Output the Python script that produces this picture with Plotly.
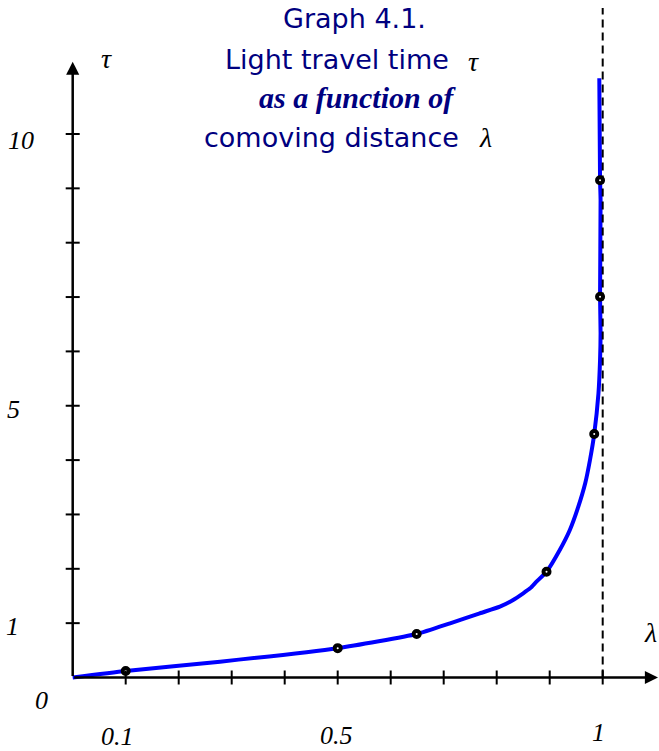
import plotly.graph_objects as go

# ---- data -------------------------------------------------------------
# comoving distance (lambda) and light travel time (tau) along the curve
lam_curve = [0, 0.1, 0.278, 0.5, 0.649, 0.712, 0.768, 0.806,
             0.831, 0.850, 0.863, 0.875, 0.894, 0.919, 0.938, 0.954, 0.967,
             0.976, 0.984, 0.992, 0.995, 0.996, 0.995, 0.996, 0.995, 0.9936]
tau_curve = [0, 0.12, 0.29, 0.54, 0.80, 0.997, 1.181, 1.303,
             1.426, 1.549, 1.641, 1.763, 1.947, 2.346, 2.714, 3.143, 3.573,
             4.002, 4.48, 5.229, 5.842, 6.333, 7.006, 8.786, 9.148, 11.025]

# computed sample points
lam_pts = [0.1, 0.5, 0.649, 0.894, 0.984, 0.995, 0.995]
tau_pts = [0.12, 0.54, 0.80, 1.947, 4.48, 7.006, 9.148]

x_ticks = [0.1, 0.2, 0.3, 0.4, 0.5, 0.6, 0.7, 0.8, 0.9, 1.0]
y_ticks = [1, 2, 3, 4, 5, 6, 7, 8, 9, 10]
x_labels = {0.1: "0.1", 0.5: "0.5", 1.0: "1"}
y_labels = {1: "1", 5: "5", 10: "10"}

# ---- geometry ---------------------------------------------------------
W, H = 659, 751
X0PX, XSCALE = 72.7, 530.0     # pixel of lambda=0, pixels per unit
Y0PX, YSCALE = 677.5, 54.35    # pixel of tau=0, pixels per unit


def px_to_x(px):
    return (px - X0PX) / XSCALE


def px_to_y(py):
    return (Y0PX - py) / YSCALE


def paper(px, py):
    return px / W, 1 - py / H


TITLE_COLOR = "#00007f"
SERIF = "Liberation Serif, Times New Roman, serif"
SANS = "DejaVu Sans, sans-serif"

fig = go.Figure()

# main curve
fig.add_trace(go.Scatter(
    x=lam_curve, y=tau_curve, mode="lines",
    line=dict(color="#0000ff", width=4, shape="spline", smoothing=0.5),
    hoverinfo="skip", showlegend=False,
))

# sample points: black rings
fig.add_trace(go.Scatter(
    x=lam_pts, y=tau_pts, mode="markers",
    marker=dict(symbol="circle", size=6, color="white",
                line=dict(color="black", width=4)),
    showlegend=False,
))

shapes = []
# asymptote at lambda = 1
shapes.append(dict(type="line", xref="x", yref="y",
                   x0=1.0, x1=1.0, y0=0, y1=px_to_y(8),
                   line=dict(color="black", width=2, dash="8px,5px")))
# tick marks crossing the axes
for t in x_ticks:
    shapes.append(dict(type="line", xref="x", yref="y",
                       ysizemode="pixel", yanchor=0, x0=t, x1=t, y0=-7, y1=7,
                       line=dict(color="black", width=2)))
for t in y_ticks:
    shapes.append(dict(type="line", xref="x", yref="y",
                       xsizemode="pixel", xanchor=0, y0=t, y1=t, x0=-7, x1=7,
                       line=dict(color="black", width=2)))

annotations = []
# axes drawn as arrows
annotations.append(dict(x=px_to_x(658), y=0, ax=0, ay=0, xref="x", yref="y",
                        axref="x", ayref="y", text="", showarrow=True,
                        arrowhead=2, arrowsize=1.05, arrowwidth=2.5,
                        arrowcolor="black"))
annotations.append(dict(x=0, y=px_to_y(61.7), ax=0, ay=0, xref="x", yref="y",
                        axref="x", ayref="y", text="", showarrow=True,
                        arrowhead=2, arrowsize=1.05, arrowwidth=2.5,
                        arrowcolor="black"))


def label(text, px, py, size=26, color="black", family=SERIF):
    xp, yp = paper(px, py)
    annotations.append(dict(x=xp, y=yp, xref="paper", yref="paper",
                            text=text, showarrow=False,
                            xanchor="center", yanchor="middle",
                            font=dict(family=family, size=size, color=color)))


# tick labels
label("<i>0</i>", 41.5, 700)
x_label_px = {0.1: (117.5, 736), 0.5: (336, 735), 1.0: (598, 732)}
for v, s in x_labels.items():
    label("<i>%s</i>" % s, *x_label_px[v])
y_label_px = {1: (12, 626), 5: (13.5, 409), 10: (21, 140)}
for v, s in y_labels.items():
    label("<i>%s</i>" % s, *y_label_px[v])

# axis names
label("<i>τ</i>", 107, 58, size=28)
label("<i>λ</i>", 650, 632, size=28)

# title block
label("Graph 4.1.", 354, 19, size=27, color=TITLE_COLOR, family=SANS)
label("Light travel time", 337, 60, size=27, color=TITLE_COLOR, family=SANS)
label("<i>τ</i>", 473, 62, size=28)
label("<b><i>as a function of</i></b>", 358, 98, size=30, color=TITLE_COLOR)
label("comoving distance", 331, 138, size=27, color=TITLE_COLOR, family=SANS)
label("<i>λ</i>", 485, 138, size=28)

fig.update_layout(
    width=W, height=H,
    margin=dict(l=0, r=0, t=0, b=0),
    paper_bgcolor="white", plot_bgcolor="white",
    xaxis=dict(range=[px_to_x(0), px_to_x(W)], visible=False, fixedrange=True),
    yaxis=dict(range=[px_to_y(H), px_to_y(0)], visible=False, fixedrange=True),
    shapes=shapes, annotations=annotations, showlegend=False,
)

fig.write_html("out.html")
